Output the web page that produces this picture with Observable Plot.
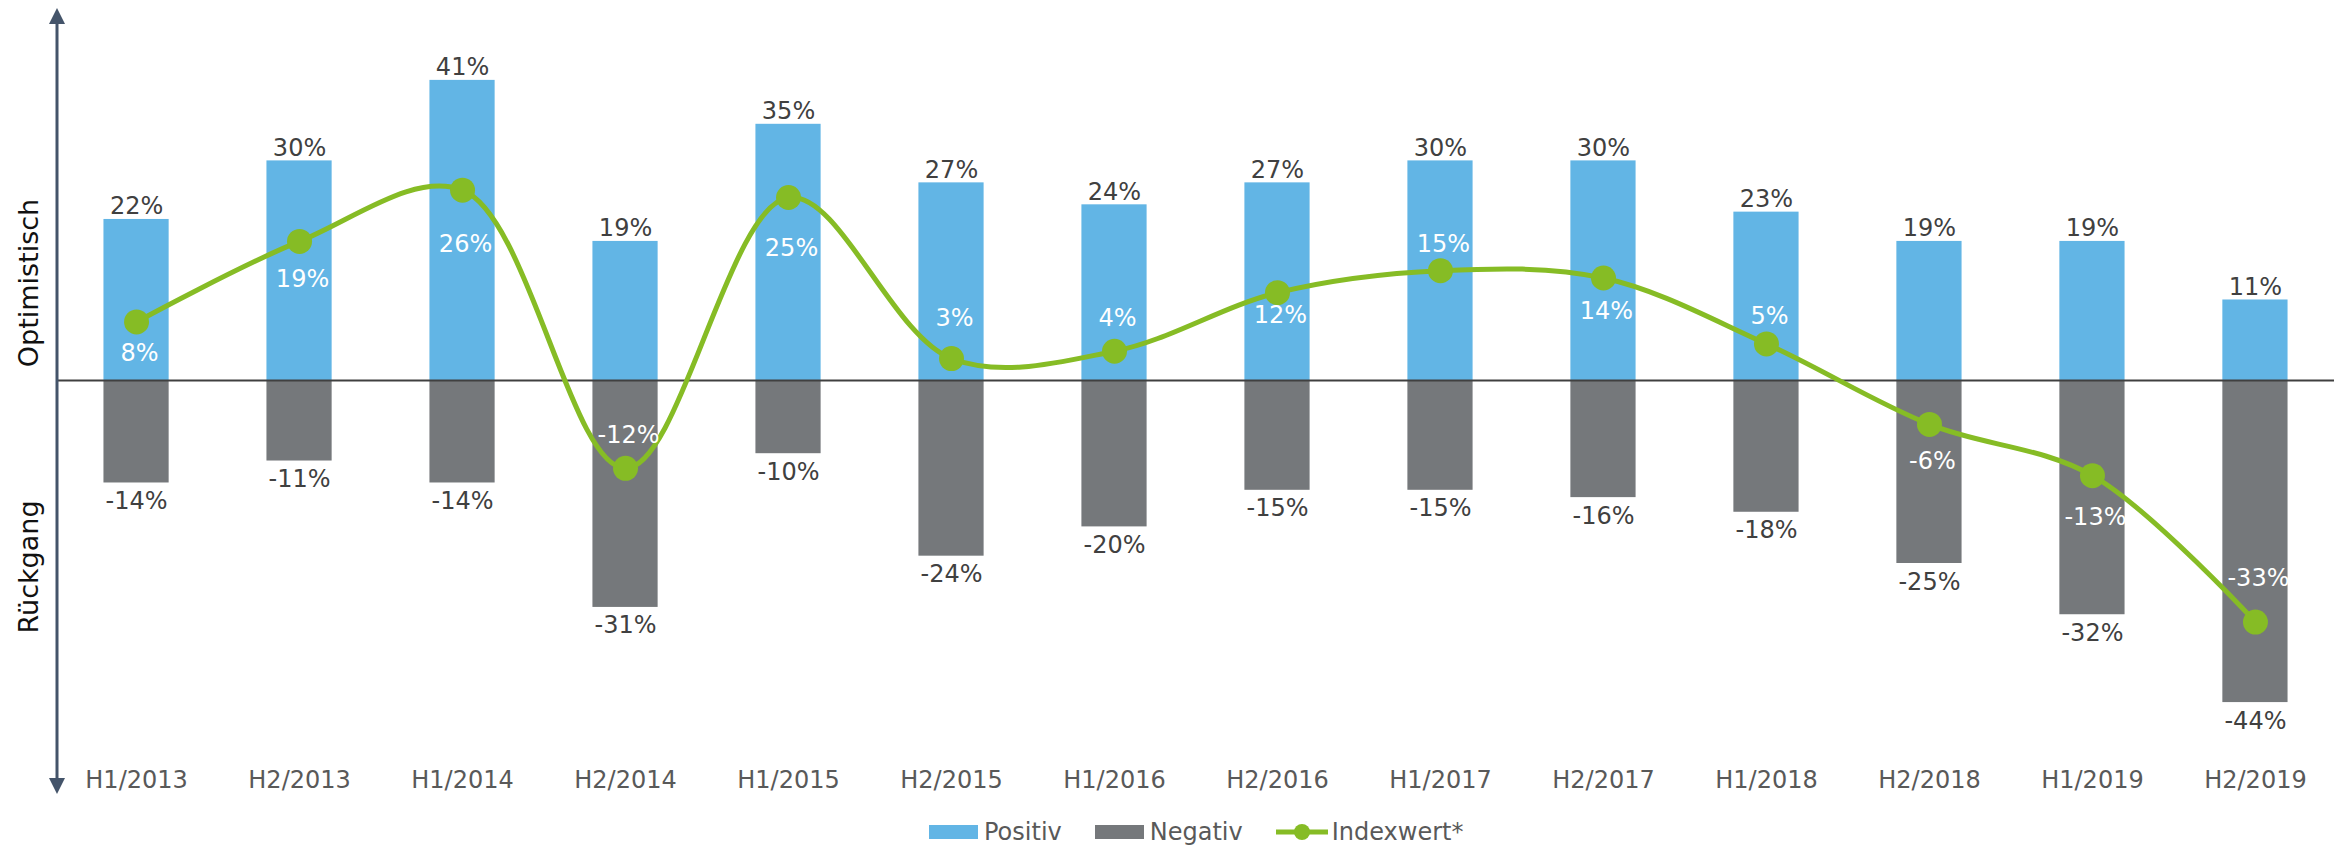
<!DOCTYPE html>
<html>
<head>
<meta charset="utf-8">
<script src="https://cdn.jsdelivr.net/npm/d3@7"></script>
<script src="https://cdn.jsdelivr.net/npm/@observablehq/plot@0.6"></script>
<style>
  html, body { margin: 0; padding: 0; background: #fff; }
  #chart svg { display: block; }
  #legend { height: 28px; display: flex; align-items: center; padding-left: 929px;
    font-family: "DejaVu Sans", Verdana, sans-serif;
    font-size: 24px; color: #595959; }
  .item { display: flex; align-items: center; margin-right: 33px; }
  .sw { width: 49px; height: 14px; margin-right: 6px; }
</style>
</head>
<body>
<div id="chart"></div>
<div id="legend"></div>
<script>
const categories = ["H1/2013","H2/2013","H1/2014","H2/2014","H1/2015","H2/2015","H1/2016","H2/2016","H1/2017","H2/2017","H1/2018","H2/2018","H1/2019","H2/2019"];
const positive = [22, 30, 41, 19, 35, 27, 24, 27, 30, 30, 23, 19, 19, 11];
const negative = [-14, -11, -14, -31, -10, -24, -20, -15, -15, -16, -18, -25, -32, -44];
const indexValues = [8, 19, 26, -12, 25, 3, 4, 12, 15, 14, 5, -6, -13, -33];
// label offset (px) of the Indexwert labels relative to their dots
const indexLabelDy = [31, 38, 54, -33, 51, -40, -33, 23, -26, 33, -28, 37, 42, -44];

const seriesNames = ["Positiv", "Negativ", "Indexwert*"];
const colors = {blue: "#62B5E5", gray: "#75787B", green: "#86BC25"};

const rows = categories.map((c, i) => ({cat: c, pos: positive[i], neg: negative[i], idx: indexValues[i], dy: indexLabelDy[i]}));
const pct = v => `${v}%`;

const W = 2341, H = 818, mT = 0, mB = 60, mL = 57, mR = 7;
const pxPerPct = 7.32, zeroY = 380;
const yTop = (zeroY - mT) / pxPerPct;
const yBottom = -((H - mB) - zeroY) / pxPerPct;

const plot = Plot.plot({
  width: W, height: H,
  marginTop: mT, marginBottom: mB, marginLeft: mL, marginRight: mR,
  style: {fontFamily: "DejaVu Sans, Verdana, sans-serif", fontSize: "24px", color: "#595959", background: "#fff"},
  x: {domain: categories, paddingInner: 0.6, paddingOuter: 0.285, align: 0.5, round: false, tickSize: 0, tickPadding: 12, label: null},
  y: {domain: [yBottom, yTop], axis: null},
  marks: [
    Plot.barY(rows, {x: "cat", y: "pos", fill: colors.blue}),
    Plot.barY(rows, {x: "cat", y: "neg", fill: colors.gray}),
    Plot.ruleY([0], {stroke: "#404040", strokeWidth: 2}),
    Plot.text(rows, {x: "cat", y: "pos", text: d => pct(d.pos), lineAnchor: "bottom", dy: -5, fill: "#404040", fontSize: 24}),
    Plot.text(rows, {x: "cat", y: "neg", text: d => pct(d.neg), lineAnchor: "top", dy: 9, fill: "#404040", fontSize: 24}),
    Plot.line(rows, {x: "cat", y: "idx", curve: "catmull-rom", stroke: colors.green, strokeWidth: 5}),
    Plot.dot(rows, {x: "cat", y: "idx", r: 12.5, fill: colors.green, stroke: "none"}),
    ...rows.map(r => Plot.text([r], {x: "cat", y: "idx", text: d => pct(d.idx), dy: r.dy, dx: 3, fill: "#ffffff", fontSize: 24}))
  ]
});

const svg = d3.select(plot);
const axisColor = "#44546A";
svg.append("line").attr("x1", mL).attr("x2", mL).attr("y1", 20).attr("y2", 782)
  .attr("stroke", axisColor).attr("stroke-width", 3);
svg.append("polygon").attr("points", `${mL},8 ${mL-8},24 ${mL+8},24`).attr("fill", axisColor);
svg.append("polygon").attr("points", `${mL},794 ${mL-8},778 ${mL+8},778`).attr("fill", axisColor);
const axisTitles = [["Optimistisch", 283], ["Rückgang", 567]];
axisTitles.forEach(([t, cy]) => {
  svg.append("text").attr("transform", `translate(28,${cy}) rotate(-90)`)
    .attr("text-anchor", "middle").attr("dominant-baseline", "central")
    .attr("font-size", 27).attr("fill", "#111").text(t);
});

document.getElementById("chart").appendChild(plot);

const legend = d3.select("#legend");
const swatchColors = [colors.blue, colors.gray];
seriesNames.forEach((name, i) => {
  const item = legend.append("div").attr("class", "item");
  if (i < 2) {
    item.append("div").attr("class", "sw").style("background", swatchColors[i]);
  } else {
    const s = item.append("svg").attr("width", 52).attr("height", 18).style("margin-right", "4px");
    s.append("line").attr("x1", 0).attr("x2", 52).attr("y1", 9).attr("y2", 9).attr("stroke", colors.green).attr("stroke-width", 5);
    s.append("circle").attr("cx", 26).attr("cy", 9).attr("r", 8).attr("fill", colors.green);
  }
  item.append("span").text(name);
});
</script>
</body>
</html>
